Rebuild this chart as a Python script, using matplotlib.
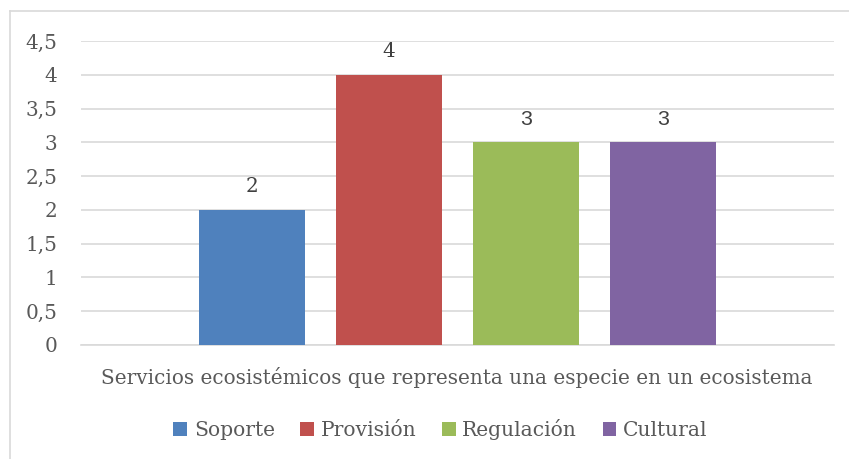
import matplotlib
matplotlib.use("Agg")
import matplotlib.pyplot as plt
from matplotlib.lines import Line2D
from matplotlib.patches import Patch

series = ["Soporte", "Provisión", "Regulación", "Cultural"]
values = [2, 4, 3, 3]
colors = ["#4F81BD", "#C0504D", "#9BBB59", "#8064A2"]
category = "Servicios ecosistémicos que representa una especie en un ecosistema"
yticks = [0, 0.5, 1, 1.5, 2, 2.5, 3, 3.5, 4, 4.5]
ytick_labels = ["0", "0,5", "1", "1,5", "2", "2,5", "3", "3,5", "4", "4,5"]

W, H = 849, 459
fig = plt.figure(figsize=(W / 100, H / 100), dpi=100)
fig.patch.set_facecolor("white")

serif = "DejaVu Serif"
txt = "#595959"
fs = 14.4

ax = fig.add_axes([81 / W, 1 - 345 / H, (834 - 81) / W, (345 - 41) / H])
offsets = [-1.5, -0.5, 0.5, 1.5]
width = 0.78
for off, v, c, name in zip(offsets, values, colors, series):
    ax.bar(off, v, width=width, color=c, label=name, zorder=3)
    lab_font = "Liberation Sans" if v == 3 else serif
    ax.text(off, v + 0.2, str(v), ha="center", va="bottom",
            fontsize=fs + (1 if v == 3 else 0), color="#404040", family=lab_font)

ax.set_xlim(-2.748, 2.748)
ax.set_ylim(0, 4.5)
ax.set_yticks(yticks)
ax.set_yticklabels(ytick_labels, family=serif, fontsize=fs, color=txt)
ax.tick_params(axis="y", length=0, pad=17)
ax.set_xticks([])
ax.grid(axis="y", color="#D9D9D9", linewidth=1.2, zorder=0)
for s in ["top", "right", "left"]:
    ax.spines[s].set_visible(False)
ax.spines["bottom"].set_color("#D9D9D9")
ax.spines["bottom"].set_linewidth(1.2)

fig.text(457 / W, 1 - 378 / H, category, ha="center", va="center",
         family=serif, fontsize=fs, color=txt)

handles = [Patch(facecolor=c, label=n) for c, n in zip(colors, series)]
leg = fig.legend(handles=handles, loc="center", bbox_to_anchor=(440.5 / W, 1 - 430 / H),
                 ncol=4, frameon=False, handlelength=0.68, handleheight=0.68,
                 handletextpad=0.33, columnspacing=1.25,
                 prop={"family": serif, "size": 14.6})
for t in leg.get_texts():
    t.set_color(txt)

# chart-area border (top and left visible)
fig.add_artist(Line2D([10 / W, 1], [1 - 11 / H, 1 - 11 / H], color="#D9D9D9", linewidth=1.2))
fig.add_artist(Line2D([10 / W, 10 / W], [0, 1 - 11 / H], color="#D9D9D9", linewidth=1.2))

fig.savefig("out.png", dpi=100, facecolor="white")
